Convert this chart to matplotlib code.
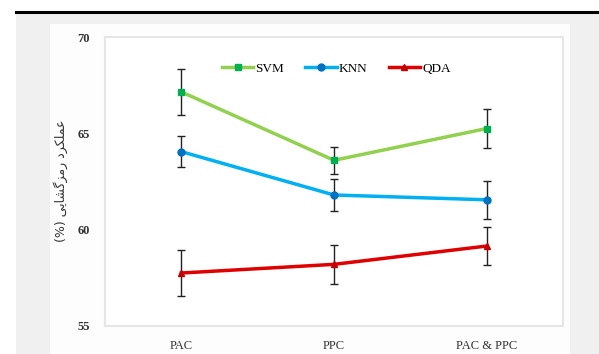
import numpy as np
import matplotlib
matplotlib.use("Agg")
from matplotlib import pyplot as plt
from matplotlib.patches import Rectangle
from matplotlib.lines import Line2D

conditions = ["PAC", "PPC", "PAC & PPC"]

svm_mean = [67.15, 63.6, 65.25]
svm_err = [1.2, 0.7, 1.0]
knn_mean = [64.05, 61.8, 61.55]
knn_err = [0.8, 0.85, 1.0]
qda_mean = [57.75, 58.2, 59.15]
qda_err = [1.2, 1.0, 1.0]

yticks = [55, 60, 65, 70]

# "عملکرد رمزگشایی (%)" in pre-shaped presentation forms, visual order
ylabel = "(%) \ufbfd\ufbfe\ufe8e\ufeb8\ufb94\ufeb0\ufee3\ufead \ufea9\ufeae\ufb91\ufee0\ufee4\ufecb"

W, H = 599, 354
fig = plt.figure(figsize=(W / 100, H / 100), dpi=100)
fig.patch.set_facecolor("white")

# page frame: black rule, grey panel, white chart area
fig.patches.append(Rectangle((16 / W, 0), 1 - 16 / W, 1 - 13 / H, transform=fig.transFigure,
                             facecolor="#f0f0f0", edgecolor="none", zorder=-10))
fig.patches.append(Rectangle((50 / W, 0), (570 - 50) / W, 1 - 24 / H, transform=fig.transFigure,
                             facecolor="#fdfdfd", edgecolor="none", zorder=-9))
fig.add_artist(Line2D([16 / W, 1], [1 - 12 / H, 1 - 12 / H], transform=fig.transFigure,
                      color="black", linewidth=2.2, zorder=-8))

ax = fig.add_axes([105 / W, (H - 326) / H, (563 - 105) / W, (326 - 37) / H])
ax.set_zorder(1)
ax.set_facecolor("white")

x = np.arange(len(conditions))
series = [
    ("SVM", svm_mean, svm_err, "#92d050", "#00b050", "s"),
    ("KNN", knn_mean, knn_err, "#00b0f0", "#0070c0", "o"),
    ("QDA", qda_mean, qda_err, "#e00000", "#c00000", "^"),
]
handles = []
for name, mean, err, lc, mc, mk in series:
    ax.errorbar(x, mean, yerr=err, fmt="none", ecolor="#222222", elinewidth=1.0,
                capsize=3, capthick=1.0, zorder=2)
    h, = ax.plot(x, mean, color=lc, linewidth=2.5, marker=mk, markersize=5,
                 markerfacecolor=mc, markeredgecolor=mc, label=name, zorder=3)
    handles.append(h)

ax.set_xlim(-0.5, 2.5)
ax.set_ylim(55, 70)
ax.set_yticks(yticks)
ax.set_xticks(x)
ax.set_xticklabels(conditions, fontfamily="Liberation Serif", fontsize=9, color="#333333")
ax.set_yticklabels([str(v) for v in yticks], fontfamily="Liberation Serif",
                   fontsize=9, fontweight="bold", color="#333333")
ax.tick_params(length=0)
ax.tick_params(axis="y", pad=11)
ax.tick_params(axis="x", pad=10)
for s in ax.spines.values():
    s.set_color("#e6e6e6")
    s.set_linewidth(1.5)

fig.text(61 / W, 1 - 181 / H, ylabel, rotation=90, ha="center", va="center",
         fontsize=9, color="#333333", family=["DejaVu Sans"])

ax.legend(handles=handles, loc="center", bbox_to_anchor=(0.505, 0.89), ncol=3,
          frameon=False, handlelength=2.4, handletextpad=0.15, columnspacing=1.6,
          prop={"family": "Liberation Serif", "size": 9.5})

fig.savefig("out.png", dpi=100)
